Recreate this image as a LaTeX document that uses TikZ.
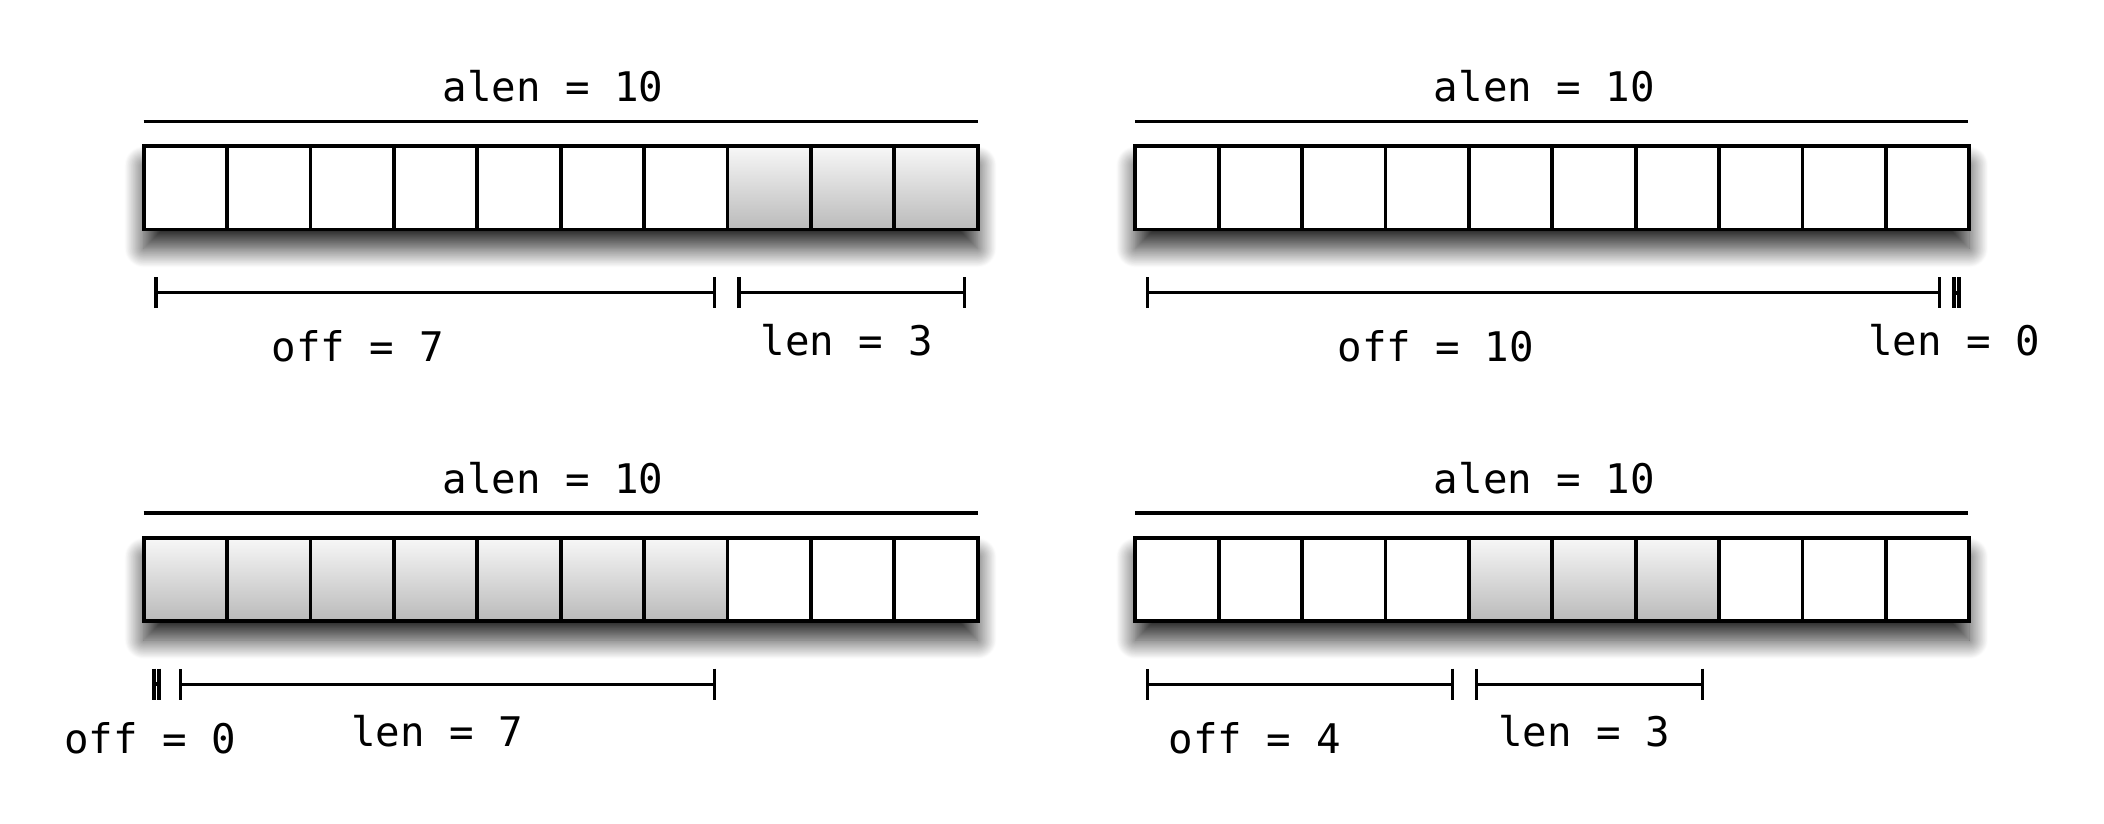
\documentclass[tikz,border=0pt]{standalone}
\usepackage{fontspec}
\setmonofont{DejaVu Sans Mono}
\usetikzlibrary{shadows.blur,arrows.meta}
\tikzset{
  cellbox/.style={draw=black, line width=1.9pt, fill=white, minimum width=41.7pt, minimum height=41.65pt, inner sep=0pt, outer sep=0pt, anchor=north west},
  fullcell/.style={cellbox, top color=white!97!black, bottom color=black!27},
  arraybox/.style={fill=white, minimum width=417pt, minimum height=41.65pt, inner sep=0pt, outer sep=0pt, anchor=north west,
     blur shadow={shadow xshift=0pt, shadow yshift=-9.5pt, shadow blur radius=9.5pt, shadow blur steps=30, shadow opacity=85}},
  lbl/.style={font=\ttfamily\fontsize{20.4}{24}\selectfont, anchor=base, inner sep=0pt},
  alenline/.style={line width=1.8pt},
  measure/.style={line width=1.7pt, {Bar[width=15.5pt,line width=1.7pt]}-{Bar[width=15.5pt,line width=1.7pt]}},
  zerotick/.style={line width=1.9pt},
}
% #1 name, #2 left x, #3 top y, #4 first shaded index, #5 index after last shaded
\newcommand\drawarr[5]{%
  \node[arraybox] (#1) at (#2,#3) {};
  \foreach \i in {0,...,9} {%
    \ifnum\i<#4\relax \tikzset{curcell/.style={cellbox}}%
    \else\ifnum\i<#5\relax \tikzset{curcell/.style={fullcell}}%
    \else \tikzset{curcell/.style={cellbox}}\fi\fi
    \node[curcell] (#1c\i) at ({#2+\i*83.41},#3) {};
  }%
}
% zero-length marker between two named coordinates
\newcommand\zeromark[2]{%
  \draw[zerotick] (#1) ++(0,-15.5) -- ++(0,31);
  \draw[zerotick] (#2) ++(0,-15.5) -- ++(0,31);
  \draw[zerotick] (#1) -- (#2);
}
\begin{document}
\begin{tikzpicture}[x=0.5pt,y=-0.5pt]
\useasboundingbox (0,0) rectangle (2104,824);

% ---------- top left ----------
\node[lbl] (tlAlen) at (553,101.7) {alen = 10};
\coordinate (tlA1) at (143.6,121.7); \coordinate (tlA2) at (977.7,121.7);
\draw[alenline] (tlA1) -- (tlA2);
\drawarr{tl}{143.6}{146.2}{7}{10}
\coordinate (tlO1) at (154.3,292.7); \coordinate (tlO2) at (716,292.7);
\draw[measure] (tlO1) -- (tlO2);
\coordinate (tlL1) at (737.3,292.7); \coordinate (tlL2) at (966,292.7);
\draw[measure] (tlL1) -- (tlL2);
\node[lbl] (tlOff) at (357.6,361.7) {off = 7};
\node[lbl] (tlLen) at (846.7,355) {len = 3};

% ---------- top right ----------
\node[lbl] (trAlen) at (1544.5,101.7) {alen = 10};
\coordinate (trA1) at (1135.2,121.7); \coordinate (trA2) at (1968.4,121.7);
\draw[alenline] (trA1) -- (trA2);
\drawarr{tr}{1135.2}{146.2}{0}{0}
\coordinate (trO1) at (1145.9,292.7); \coordinate (trO2) at (1941.3,292.7);
\draw[measure] (trO1) -- (trO2);
\coordinate (trL1) at (1953.7,292.7); \coordinate (trL2) at (1958.7,292.7);
\zeromark{trL1}{trL2}
\node[lbl] (trOff) at (1435.7,361.7) {off = 10};
\node[lbl] (trLen) at (1954.3,355) {len = 0};

% ---------- bottom left ----------
\node[lbl] (blAlen) at (553,493.2) {alen = 10};
\coordinate (blA1) at (143.6,513.2); \coordinate (blA2) at (977.7,513.2);
\draw[alenline] (blA1) -- (blA2);
\drawarr{bl}{143.6}{537.7}{0}{7}
\coordinate (blO1) at (153.7,684.2); \coordinate (blO2) at (158.7,684.2);
\zeromark{blO1}{blO2}
\coordinate (blL1) at (179,684.2); \coordinate (blL2) at (716,684.2);
\draw[measure] (blL1) -- (blL2);
\node[lbl] (blOff) at (150.3,753.2) {off = 0};
\node[lbl] (blLen) at (437.4,746.5) {len = 7};

% ---------- bottom right ----------
\node[lbl] (brAlen) at (1544.5,493.2) {alen = 10};
\coordinate (brA1) at (1135.2,513.2); \coordinate (brA2) at (1968.4,513.2);
\draw[alenline] (brA1) -- (brA2);
\drawarr{br}{1135.2}{537.7}{4}{7}
\coordinate (brO1) at (1145.7,684.2); \coordinate (brO2) at (1454,684.2);
\draw[measure] (brO1) -- (brO2);
\coordinate (brL1) at (1475,684.2); \coordinate (brL2) at (1704.1,684.2);
\draw[measure] (brL1) -- (brL2);
\node[lbl] (brOff) at (1254.6,753.2) {off = 4};
\node[lbl] (brLen) at (1584,746.5) {len = 3};
\end{tikzpicture}
\end{document}
